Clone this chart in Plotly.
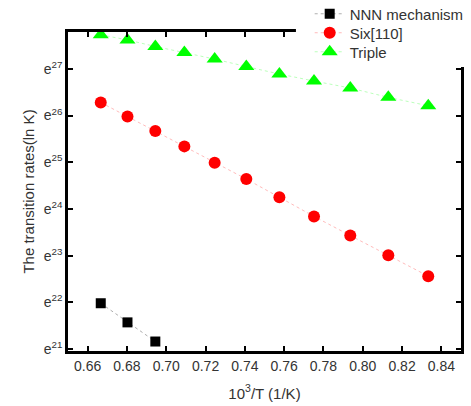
import plotly.graph_objects as go

inv_T = [1000/1500, 1000/1470, 1000/1440, 1000/1410, 1000/1380, 1000/1350,
         1000/1320, 1000/1290, 1000/1260, 1000/1230, 1000/1200]
nnn_lnk = [21.98, 21.57, 21.16]
six_lnk = [26.28, 25.98, 25.67, 25.34, 24.99, 24.64, 24.25, 23.84, 23.43, 23.01, 22.56]
triple_lnk = [27.73, 27.62, 27.48, 27.35, 27.21, 27.05, 26.89, 26.74, 26.59, 26.39, 26.21]

x_ticks = [0.66, 0.68, 0.70, 0.72, 0.74, 0.76, 0.78, 0.80, 0.82, 0.84]
y_ticks = [21, 22, 23, 24, 25, 26, 27]
y_labels = [f"e<sup>{v}</sup>" for v in y_ticks]

font = "Liberation Sans, Arial, sans-serif"

fig = go.Figure()
fig.add_trace(go.Scatter(
    x=inv_T[:3], y=nnn_lnk, mode="lines+markers", name="NNN mechanism", legend="legend",
    marker=dict(symbol="square", size=10, color="black"),
    line=dict(color="rgba(120,120,120,0.6)", width=1, dash="dot")))
fig.add_trace(go.Scatter(
    x=inv_T, y=six_lnk, mode="lines+markers", name="Six[110]", legend="legend2",
    marker=dict(symbol="circle", size=12, color="#ff0000"),
    line=dict(color="rgba(255,120,120,0.5)", width=1, dash="dot")))
fig.add_trace(go.Scatter(
    x=inv_T, y=triple_lnk, mode="lines+markers", name="Triple", legend="legend3",
    marker=dict(symbol="triangle-up", size=14, color="#00ff00"),
    line=dict(color="rgba(120,255,120,0.5)", width=1, dash="dot")))

axis_common = dict(showline=True, linecolor="black", linewidth=2.5, mirror="ticks",
                   ticks="inside", ticklen=5, tickwidth=2, tickcolor="black",
                   showgrid=False, zeroline=False,
                   tickfont=dict(family=font, size=14, color="#333"))

fig.update_xaxes(range=[0.65, 0.85], tickvals=x_ticks,
                 ticktext=[f"{v:.2f}" for v in x_ticks],
                 title=dict(text="10<sup>3</sup>/T (1/K)", font=dict(family=font, size=15, color="#333"),
                            standoff=16),
                 **axis_common)
fig.update_yaxes(range=[20.957, 27.79], tickvals=y_ticks, ticktext=y_labels,
                 title=dict(text="The transition rates(ln K)", font=dict(family=font, size=15, color="#333"),
                            standoff=6),
                 **axis_common)

leg_common = dict(x=0.615, xanchor="left", yanchor="middle", bgcolor="rgba(255,255,255,0)",
                  borderwidth=0, font=dict(family=font, size=15, color="#333"), itemwidth=30)

fig.update_layout(
    width=471, height=406,
    margin=dict(l=68, r=10, t=32, b=55, autoexpand=False),
    paper_bgcolor="white", plot_bgcolor="white",
    showlegend=True,
    legend=dict(y=1.0564, **leg_common),
    legend2=dict(y=0.9969, **leg_common),
    legend3=dict(y=0.9373, **leg_common),
    shapes=[dict(type="rect", xref="paper", yref="paper", x0=0.58, x1=1.03, y0=0.89, y1=1.11,
                 fillcolor="white", line=dict(width=0), layer="above")],
)

fig.write_html("out.html")
